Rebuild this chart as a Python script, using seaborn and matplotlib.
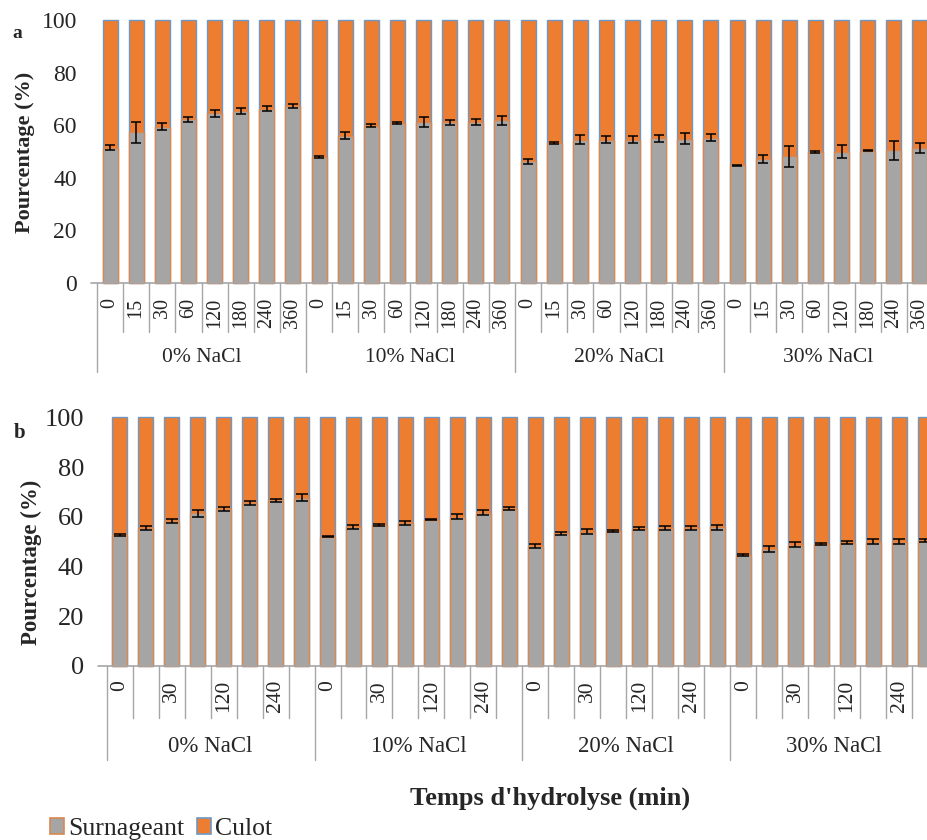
import numpy as np
import pandas as pd
import matplotlib
matplotlib.use("Agg")
import matplotlib.pyplot as plt
import matplotlib.transforms as mtransforms
from matplotlib.patches import Patch
import seaborn as sns

# ---------------- data ----------------
groups = ["0% NaCl", "10% NaCl", "20% NaCl", "30% NaCl"]
times = ["0", "15", "30", "60", "120", "180", "240", "360"]
times_b_labels = ["0", "", "30", "", "120", "", "240", ""]

surn_a = [51.4, 57.3, 59.4, 62.2, 64.6, 65.5, 66.3, 67.2,
          47.9, 56.0, 59.8, 60.8, 61.1, 61.1, 61.3, 61.8,
          46.2, 53.3, 54.5, 54.5, 54.5, 55.0, 54.9, 55.2,
          44.7, 47.1, 48.2, 49.9, 49.9, 50.3, 50.5, 51.2]
err_a = [1.0, 4.1, 1.4, 1.0, 1.3, 1.1, 0.9, 0.8,
         0.5, 1.3, 0.5, 0.3, 1.9, 1.0, 1.2, 1.8,
         1.0, 0.4, 1.8, 1.3, 1.3, 1.3, 2.1, 1.3,
         0.3, 1.5, 4.0, 0.3, 2.5, 0.2, 3.6, 1.9]

surn_b = [52.7, 55.6, 58.3, 61.4, 63.0, 65.5, 66.6, 67.6,
          52.0, 55.8, 56.7, 57.6, 58.8, 60.0, 61.7, 63.3,
          48.4, 53.3, 54.0, 54.2, 55.2, 55.3, 55.5, 55.8,
          44.6, 46.9, 48.8, 49.1, 49.6, 49.9, 50.0, 50.4]
err_b = [0.3, 0.8, 0.8, 1.5, 0.8, 0.8, 0.7, 1.4,
         0.2, 0.8, 0.3, 0.8, 0.2, 1.0, 1.0, 0.6,
         0.8, 0.6, 0.9, 0.4, 0.7, 0.8, 0.7, 1.0,
         0.5, 1.2, 1.0, 0.4, 0.6, 1.0, 1.0, 0.5]

series = ["Surnageant", "Culot"]

# ---------------- style ----------------
sns.set_style("white")
plt.rcParams["font.family"] = ["Liberation Serif", "DejaVu Serif"]

GREY = "#A5A5A5"
ORANGE = "#ED7D31"
BLUE_EDGE = "#6F97C4"
BROWN_EDGE = "#D9874F"
AXIS_GREY = "#A6A6A6"

W, H = 927, 840
fig = plt.figure(figsize=(W / 100, H / 100), dpi=100)


def px_axes(x0, x1, ytop, ybot):
    return fig.add_axes([x0 / W, 1 - ybot / H, (x1 - x0) / W, (ybot - ytop) / H])


def draw_panel(ax, surn, err, tick_labels, tick_fs, ytick_fs, grp_fs, ypad,
               xpad, small_bot, long_bot, grp_y, axis_ext, capsize):
    n = len(surn)
    keys = [f"{g}|{t}" for g in groups for t in times]
    df = pd.DataFrame({"key": keys,
                       "total": [100.0] * n,
                       "surn": surn,
                       "err": err})
    sns.barplot(data=df, x="key", y="total", order=keys, color=ORANGE,
                saturation=1, edgecolor=BLUE_EDGE, linewidth=1.0,
                width=0.575, errorbar=None, ax=ax)
    sns.barplot(data=df, x="key", y="surn", order=keys, color=GREY,
                saturation=1, edgecolor=BROWN_EDGE, linewidth=1.0,
                width=0.575, errorbar=None, ax=ax)
    for p in ax.patches:
        p.set_clip_on(False)
    ax.errorbar(np.arange(n), df["surn"], yerr=df["err"], fmt="none",
                ecolor="black", elinewidth=1.1, capsize=capsize,
                capthick=1.1, zorder=5)

    ax.set_xlim(-0.5, n - 0.5)
    ax.set_ylim(0, 100)
    ax.set_yticks([0, 20, 40, 60, 80, 100])
    ax.tick_params(axis="y", length=0, pad=ypad, labelsize=ytick_fs)
    ax.set_xticks(np.arange(n))
    ax.set_xticklabels(tick_labels, rotation=90)
    ax.tick_params(axis="x", length=0, pad=xpad, labelsize=tick_fs)
    for s in ax.spines.values():
        s.set_visible(False)
    ax.set_xlabel("")
    ax.set_ylabel("")

    trans = mtransforms.blended_transform_factory(ax.transData, ax.transAxes)
    # horizontal axis line
    ax.plot([-0.5 - axis_ext, n - 0.5], [0, 0], transform=trans,
            color=AXIS_GREY, lw=1.2, clip_on=False, zorder=6)
    # dividers of the two-level category axis
    for i in range(n + 1):
        xb = i - 0.5
        bot = long_bot if i % len(times) == 0 else small_bot
        ax.plot([xb, xb], [0, bot], transform=trans, color=AXIS_GREY,
                lw=1.0, clip_on=False)
    for gi, g in enumerate(groups):
        xc = gi * len(times) + (len(times) - 1) / 2
        ax.text(xc, grp_y, g, transform=trans, ha="center", va="center",
                fontsize=grp_fs)


# ---------- panel a ----------
ax_a = px_axes(97.0, 933.0, 20.0, 283.0)
labels_a = [t for g in groups for t in times]
draw_panel(ax_a, surn_a, err_a, labels_a, tick_fs=14.5, ytick_fs=17,
           grp_fs=15.5, ypad=14.4, xpad=10.5,
           small_bot=-(331.7 - 283) / 263, long_bot=-(371.7 - 283) / 263,
           grp_y=-(358 - 283) / 263, axis_ext=6.3 / 26.1, capsize=3.6)

# ---------- panel b ----------
ax_b = px_axes(106.7, 938.0, 417.3, 666.0)
labels_b = [t for g in groups for t in times_b_labels]
draw_panel(ax_b, surn_b, err_b, labels_b, tick_fs=15.5, ytick_fs=19,
           grp_fs=16.5, ypad=16.3, xpad=10.0,
           small_bot=-(718 - 666) / 248.7, long_bot=-(760 - 666) / 248.7,
           grp_y=-(746.5 - 666) / 248.7, axis_ext=8.4 / 26.0, capsize=4.0)

# y labels and panel letters
fig.text(25 / W, 1 - 152 / H, "Pourcentage (%)", rotation=90, ha="center",
         va="center", fontsize=16, fontweight="bold")
fig.text(31 / W, 1 - 562 / H, "Pourcentage (%)", rotation=90, ha="center",
         va="center", fontsize=16.5, fontweight="bold")
fig.text(17 / W, 1 - 33 / H, "a", ha="center", va="center", fontsize=14,
         fontweight="bold")
fig.text(20 / W, 1 - 433 / H, "b", ha="center", va="center", fontsize=15,
         fontweight="bold")

# x-axis title
fig.text(550 / W, 1 - 798 / H, "Temps d'hydrolyse (min)", ha="center",
         va="center", fontsize=19, fontweight="bold")

# legend
handles = [Patch(facecolor=GREY, edgecolor=BROWN_EDGE, linewidth=1.2),
           Patch(facecolor=ORANGE, edgecolor=BLUE_EDGE, linewidth=1.2)]
fig.legend(handles, series, loc="center left",
           bbox_to_anchor=(50 / W, 1 - 829 / H), ncol=2, frameon=False,
           fontsize=18.5, handlelength=0.55, handleheight=0.6,
           handletextpad=0.15, columnspacing=0.5, borderpad=0,
           borderaxespad=0)

fig.savefig("out.png", dpi=100)
